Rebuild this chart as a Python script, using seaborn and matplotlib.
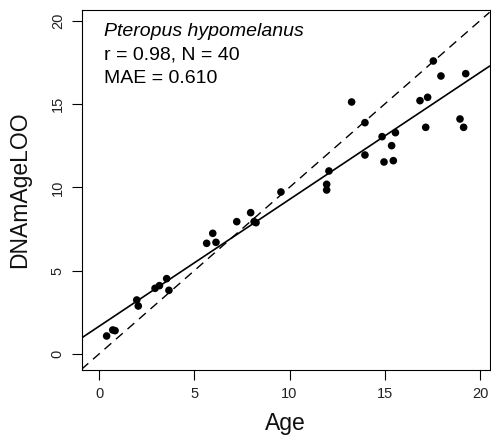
"""Scatter of DNAm age (LOO) vs chronological age for Pteropus hypomelanus."""
import numpy as np
import pandas as pd
import matplotlib
matplotlib.use('Agg')
import matplotlib.pyplot as plt
import seaborn as sns

# values
age = [0.40, 0.72, 0.84, 1.98, 2.06, 2.94, 3.17, 3.55, 3.67, 5.65,
       5.97, 6.14, 7.23, 7.96, 8.14, 8.24, 9.55, 11.95, 11.95, 12.07,
       13.26, 13.96, 13.96, 14.86, 14.96, 15.36, 15.45, 15.56, 16.85, 17.25,
       17.15, 17.55, 17.95, 18.95, 19.14, 19.25]
dnam_age_loo = [1.08, 1.44, 1.40, 3.24, 2.88, 3.94, 4.10, 4.52, 3.82, 6.64,
                7.24, 6.70, 7.94, 8.48, 7.94, 7.88, 9.72, 10.18, 9.84, 10.98,
                15.12, 13.88, 11.94, 13.04, 11.52, 12.50, 11.60, 13.28, 15.20, 15.40,
                13.60, 17.58, 16.68, 14.10, 13.60, 16.82]
x_ticks = [0, 5, 10, 15, 20]
y_ticks = [0, 5, 10, 15, 20]
info_lines = ['Pteropus hypomelanus', 'r = 0.98, N = 40', 'MAE = 0.610']

df = pd.DataFrame({'Age': age, 'DNAmAgeLOO': dnam_age_loo})

sns.set_theme(style='ticks')
plt.rcParams['font.family'] = ['Liberation Sans', 'DejaVu Sans']
plt.rcParams.update({
    'axes.linewidth': 0.8,
    'axes.edgecolor': 'black',
    'axes.labelcolor': '#111111',
    'xtick.major.size': 7,
    'ytick.major.size': 7,
    'xtick.major.width': 0.8,
    'ytick.major.width': 0.8,
    'xtick.color': 'black',
    'ytick.color': 'black',
    'xtick.labelcolor': '#222222',
    'ytick.labelcolor': '#222222',
})

fig = plt.figure(figsize=(4.91, 4.44), dpi=100)
ax = fig.add_axes([0.166, 0.1667, 0.831, 0.8108])
ax.set_xlim(-0.92, 20.5)
ax.set_ylim(-0.96, 20.64)

# identity line
ax.axline((0, 0), slope=1, color='black', lw=1.0, dashes=(6.5, 4.5))

# regression line over the full x range
sns.regplot(data=df, x='Age', y='DNAmAgeLOO', ax=ax, scatter=False,
            ci=None, truncate=False, color='black', line_kws={'lw': 1.2})

sns.scatterplot(data=df, x='Age', y='DNAmAgeLOO', ax=ax, color='black',
                s=30, edgecolor='none', zorder=3)

ax.set_xticks(x_ticks)
ax.set_yticks(y_ticks)
ax.tick_params(axis='x', labelsize=10.5, pad=5)
ax.tick_params(axis='y', labelsize=10.5, pad=5)
for lab in ax.get_yticklabels():
    lab.set_rotation(90)
    lab.set_va('center')

ax.set_xlabel('Age', fontsize=16.5, labelpad=8)
ax.set_ylabel('DNAmAgeLOO', fontsize=16.5, labelpad=14)

# annotation block
ys = [0.9286, 0.8625, 0.797]
for i, (txt, yy) in enumerate(zip(info_lines, ys)):
    ax.text(0.055, yy, txt, transform=ax.transAxes, fontsize=14,
            style='italic' if i == 0 else 'normal', va='baseline',
            ha='left', color='black')

fig.savefig('out.png', dpi=100)
